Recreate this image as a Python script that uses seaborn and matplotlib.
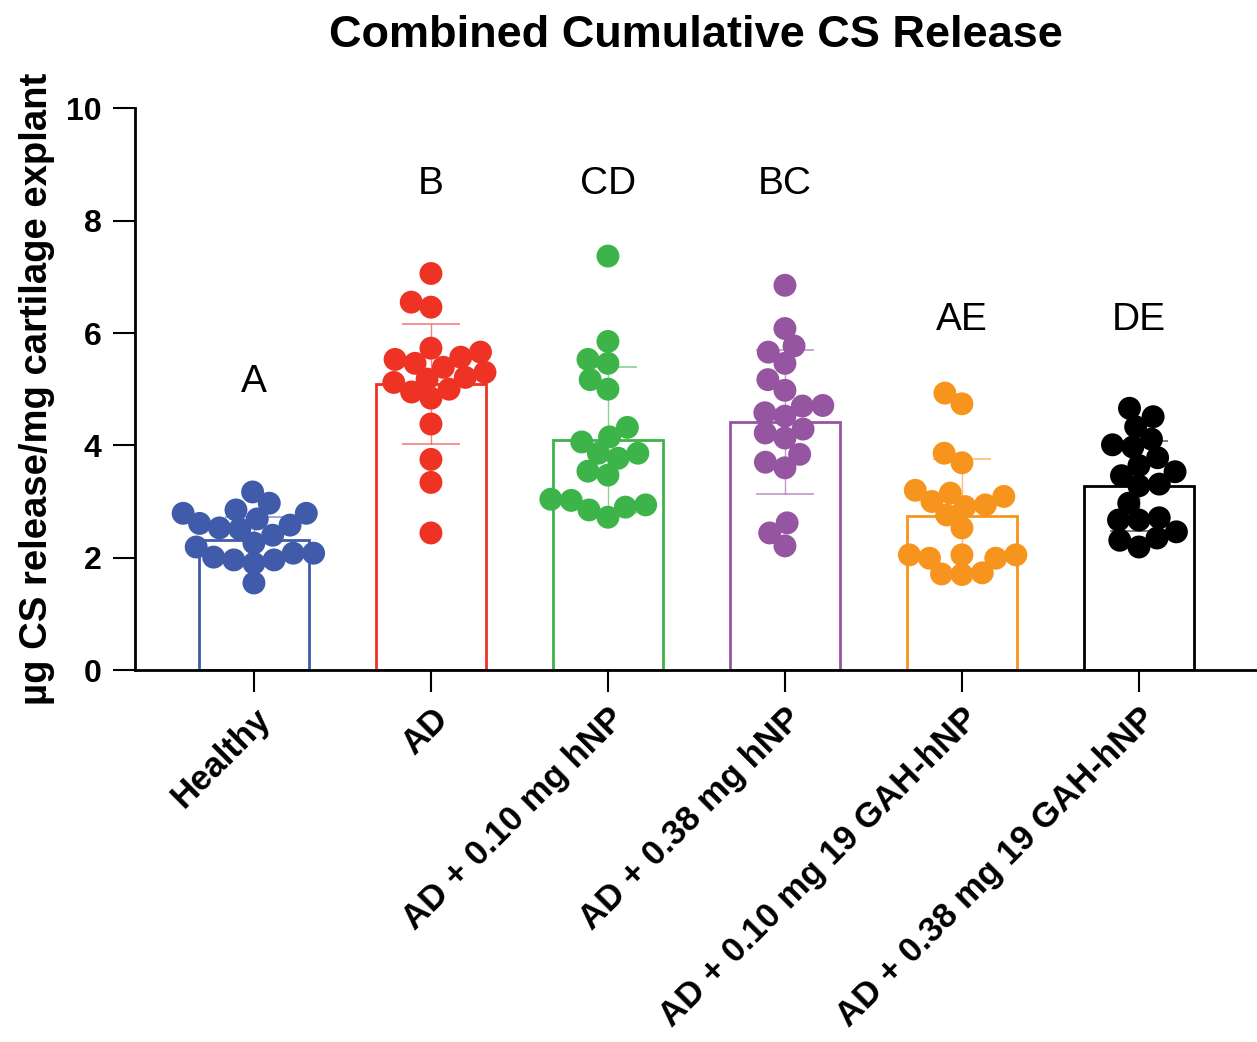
import numpy as np
import pandas as pd
import matplotlib
matplotlib.use("Agg")
import matplotlib.pyplot as plt
import matplotlib.transforms as mtransforms
import seaborn as sns

groups = ["Healthy", "AD", "AD + 0.10 mg hNP", "AD + 0.38 mg hNP",
          "AD + 0.10 mg 19 GAH-hNP", "AD + 0.38 mg 19 GAH-hNP"]

healthy = [3.17, 2.51, 2.61, 2.69, 2.79, 2.97, 2.85, 2.79, 2.58, 2.40,
           2.53, 2.26, 1.96, 2.01, 1.96, 1.90, 2.08, 2.19, 2.08, 1.55]
ad = [7.06, 6.46, 6.55, 5.57, 5.66, 5.73, 5.53, 5.39, 5.46, 5.30,
      5.18, 5.12, 5.21, 4.95, 5.00, 4.84, 4.38, 3.75, 3.34, 2.44]
ad_010_hnp = [7.37, 5.85, 5.46, 5.53, 5.17, 5.00, 4.32, 4.06, 4.15, 3.86,
              3.77, 3.86, 3.47, 3.54, 3.04, 3.02, 2.90, 2.85, 2.94, 2.72]
ad_038_hnp = [6.85, 6.08, 5.66, 5.77, 5.46, 5.17, 4.98, 4.71, 4.58, 4.70,
              4.52, 4.22, 4.13, 4.29, 3.84, 3.60, 3.70, 2.62, 2.44, 2.21]
ad_010_gah = [4.93, 4.74, 3.86, 3.69, 3.15, 3.09, 3.20, 3.00, 2.94, 2.91,
              2.76, 2.53, 2.05, 1.99, 2.05, 2.05, 1.99, 1.73, 1.70, 1.71]
ad_038_gah = [4.66, 4.51, 4.33, 4.11, 4.01, 3.97, 3.78, 3.64, 3.53, 3.46,
              3.31, 3.28, 2.97, 2.67, 2.71, 2.67, 2.46, 2.31, 2.35, 2.19]

means = [2.31, 5.09, 4.09, 4.41, 2.74, 3.28]
sds = [0.42, 1.07, 1.30, 1.28, 1.01, 0.80]
letters = ["A", "B", "CD", "BC", "AE", "DE"]
letter_y = [5.12, 8.65, 8.65, 8.65, 6.23, 6.23]
colors = ["#3F5BA9", "#EE3224", "#3CB44A", "#9655A0", "#F7941D", "#000000"]

series = [healthy, ad, ad_010_hnp, ad_038_hnp, ad_010_gah, ad_038_gah]
df = pd.DataFrame({
    "group": np.repeat(groups, [len(s) for s in series]),
    "value": np.concatenate(series),
})

sns.set_style("ticks")
plt.rcParams["font.family"] = ["Liberation Sans", "DejaVu Sans"]
plt.rcParams["text.color"] = "black"
plt.rcParams["axes.labelcolor"] = "black"
plt.rcParams["xtick.color"] = "black"
plt.rcParams["ytick.color"] = "black"

fig = plt.figure(figsize=(12.57, 10.42), dpi=100)
ax = fig.add_axes([0.1074, 0.357, 0.8926, 0.539])

sns.barplot(x=groups, y=means, hue=groups, palette=colors, order=groups,
            fill=False, linewidth=2.0, width=0.62, legend=False, ax=ax,
            errorbar=None, zorder=2)

for i, (m, s, c) in enumerate(zip(means, sds, colors)):
    ax.errorbar(i, m, yerr=s, fmt="none", ecolor=c, elinewidth=1.0,
                capsize=21, capthick=1.2, alpha=0.6, zorder=3)

n_before = len(ax.collections)
sns.swarmplot(data=df, x="group", y="value", hue="group", palette=colors,
              order=groups, hue_order=groups, size=14, legend=False,
              ax=ax, zorder=4, linewidth=0, warn_thresh=1.0)
swarm_cols = ax.collections[n_before:]

ax.set_xlim(-0.672, 5.667)
ax.set_ylim(0, 10)
ax.set_yticks([0, 2, 4, 6, 8, 10])
ax.set_xticks(range(len(groups)))
ax.set_xticklabels(groups, rotation=45, ha="right", rotation_mode="anchor",
                   fontsize=25, fontweight="bold")
shift = mtransforms.ScaledTranslation(-8 / 100, 0, fig.dpi_scale_trans)
for lab in ax.get_xticklabels():
    lab.set_transform(lab.get_transform() + shift)
for lab in ax.get_yticklabels():
    lab.set_fontsize(23)
    lab.set_fontweight("bold")
ax.tick_params(axis="both", length=16, width=1.5, color="black", pad=8)
ax.tick_params(axis="x", pad=7)
ax.set_xlabel("")
ax.set_ylabel("µg CS release/mg cartilage explant", fontsize=27.5,
              fontweight="bold", labelpad=8)
ax.set_title("Combined Cumulative CS Release", fontsize=32.5,
             fontweight="bold", pad=44)

for sp in ["top", "right"]:
    ax.spines[sp].set_visible(False)
for sp in ["left", "bottom"]:
    ax.spines[sp].set_linewidth(2.0)
    ax.spines[sp].set_color("black")

for i, (t, y) in enumerate(zip(letters, letter_y)):
    ax.text(i, y, t, ha="center", va="center", fontsize=28, color="black")

# compute swarm layout with the smaller size, then enlarge markers
fig.canvas.draw()
for col in swarm_cols:
    if "draw" in col.__dict__:
        del col.draw
    col.set_sizes([16.5 ** 2])

fig.savefig("out.png", dpi=100)
